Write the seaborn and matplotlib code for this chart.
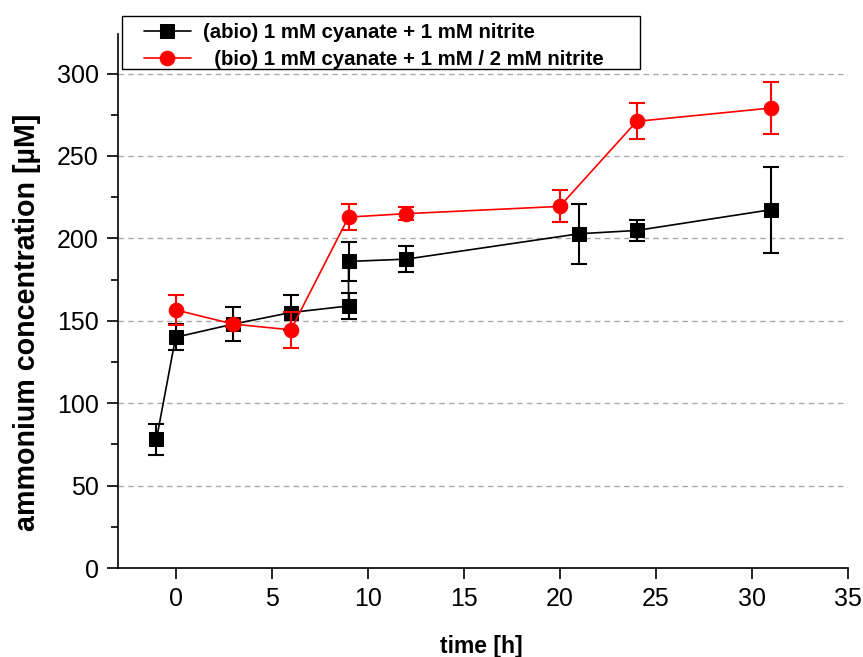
import matplotlib
matplotlib.use("Agg")
import matplotlib.pyplot as plt
import seaborn as sns
from matplotlib.ticker import MultipleLocator
from matplotlib.patches import Rectangle

# ---- data ----
t_abio = [-1, 0, 3, 6, 9, 9, 12, 21, 24, 31]
abio = [78, 140, 148, 155, 159, 186, 187.4, 202.8, 204.8, 217.4]
abio_err = [9.4, 8, 10.5, 10.5, 8, 11.6, 8, 18.2, 6.3, 26]

t_bio = [0, 3, 6, 9, 12, 20, 24, 31]
bio = [156.6, 148, 144.5, 212.9, 215, 219.4, 271, 279.1]
bio_err = [9, 2, 10.8, 8, 4, 9.7, 11, 15.7]

label_abio = "(abio) 1 mM cyanate + 1 mM nitrite"
label_bio = "  (bio) 1 mM cyanate + 1 mM / 2 mM nitrite"
xlabel = "time [h]"
ylabel = "ammonium concentration [µM]"
xticks = [0, 5, 10, 15, 20, 25, 30, 35]
yticks = [0, 50, 100, 150, 200, 250, 300]

sns.set_style("ticks")
plt.rcParams["font.family"] = ["Liberation Sans", "DejaVu Sans"]
for k in ["text.color", "axes.labelcolor", "xtick.color", "ytick.color", "axes.edgecolor"]:
    plt.rcParams[k] = "black"

W, H = 863, 657
fig = plt.figure(figsize=(W / 100, H / 100), dpi=100)
ax = fig.add_axes([118 / W, 1 - 568 / H, (848 - 118) / W, (568 - 34) / H])

# grid
for yv in yticks[1:]:
    ax.axhline(yv, color="#aaaaaa", lw=1.0, ls=(0, (4, 3)), zorder=0)

ax.errorbar(t_abio, abio, yerr=abio_err, fmt="none", ecolor="black",
            elinewidth=1.5, capsize=5.7, capthick=1.5, zorder=2)
sns.lineplot(x=t_abio, y=abio, ax=ax, color="black", marker="s", markersize=9.5,
             markeredgecolor="black", linewidth=1.2, estimator=None, sort=False,
             label=label_abio, zorder=3)
ax.errorbar(t_bio, bio, yerr=bio_err, fmt="none", ecolor="red",
            elinewidth=1.5, capsize=5.7, capthick=1.5, zorder=4)
sns.lineplot(x=t_bio, y=bio, ax=ax, color="red", marker="o", markersize=10.5,
             markeredgecolor="red", linewidth=1.2, estimator=None, sort=False,
             label=label_bio, zorder=5)

ax.set_xlim(-3, 35)
ax.set_ylim(0, 324)
ax.set_xticks(xticks)
ax.set_yticks(yticks)
ax.yaxis.set_minor_locator(MultipleLocator(25))
ax.tick_params(axis="both", which="major", direction="out", length=8, width=1.2, color="black")
ax.tick_params(axis="y", which="minor", direction="out", length=5, width=1.2, color="black")
ax.tick_params(axis="y", labelsize=18, pad=6, labelcolor="black")
ax.tick_params(axis="x", labelsize=18, pad=6, labelcolor="black")

for s in ["top", "right"]:
    ax.spines[s].set_visible(False)
for s in ["left", "bottom"]:
    ax.spines[s].set_linewidth(1.2)
    ax.spines[s].set_color("black")

ax.set_xlabel(xlabel, fontsize=16.5, fontweight="bold", color="black")
ax.xaxis.set_label_coords((481 - 118) / (848 - 118), -(646 - 568) / (568 - 34))
ax.xaxis.label.set_va("center")
ax.set_ylabel(ylabel, fontsize=20.6, fontweight="bold", color="black")
ax.yaxis.set_label_coords(-(118 - 27) / (848 - 118), (568 - 322) / (568 - 34))
ax.yaxis.label.set_va("center")

leg = ax.legend(loc="upper left", bbox_to_anchor=(144 / W, 1 - 23 / H),
                bbox_transform=fig.transFigure, frameon=False,
                prop={"weight": "bold", "size": 14.7},
                handlelength=2.3, borderpad=0.0, labelspacing=0.4, handletextpad=0.6,
                borderaxespad=0)
for t in leg.get_texts():
    t.set_color("black")
leg.set_zorder(20)
box = Rectangle((122 / W, 1 - 69 / H), (640 - 122) / W, (69 - 16) / H,
                transform=fig.transFigure, fill=True, facecolor="white",
                edgecolor="black", linewidth=1.0, zorder=15, clip_on=False)
ax.add_patch(box)

fig.savefig("out.png", dpi=100)
